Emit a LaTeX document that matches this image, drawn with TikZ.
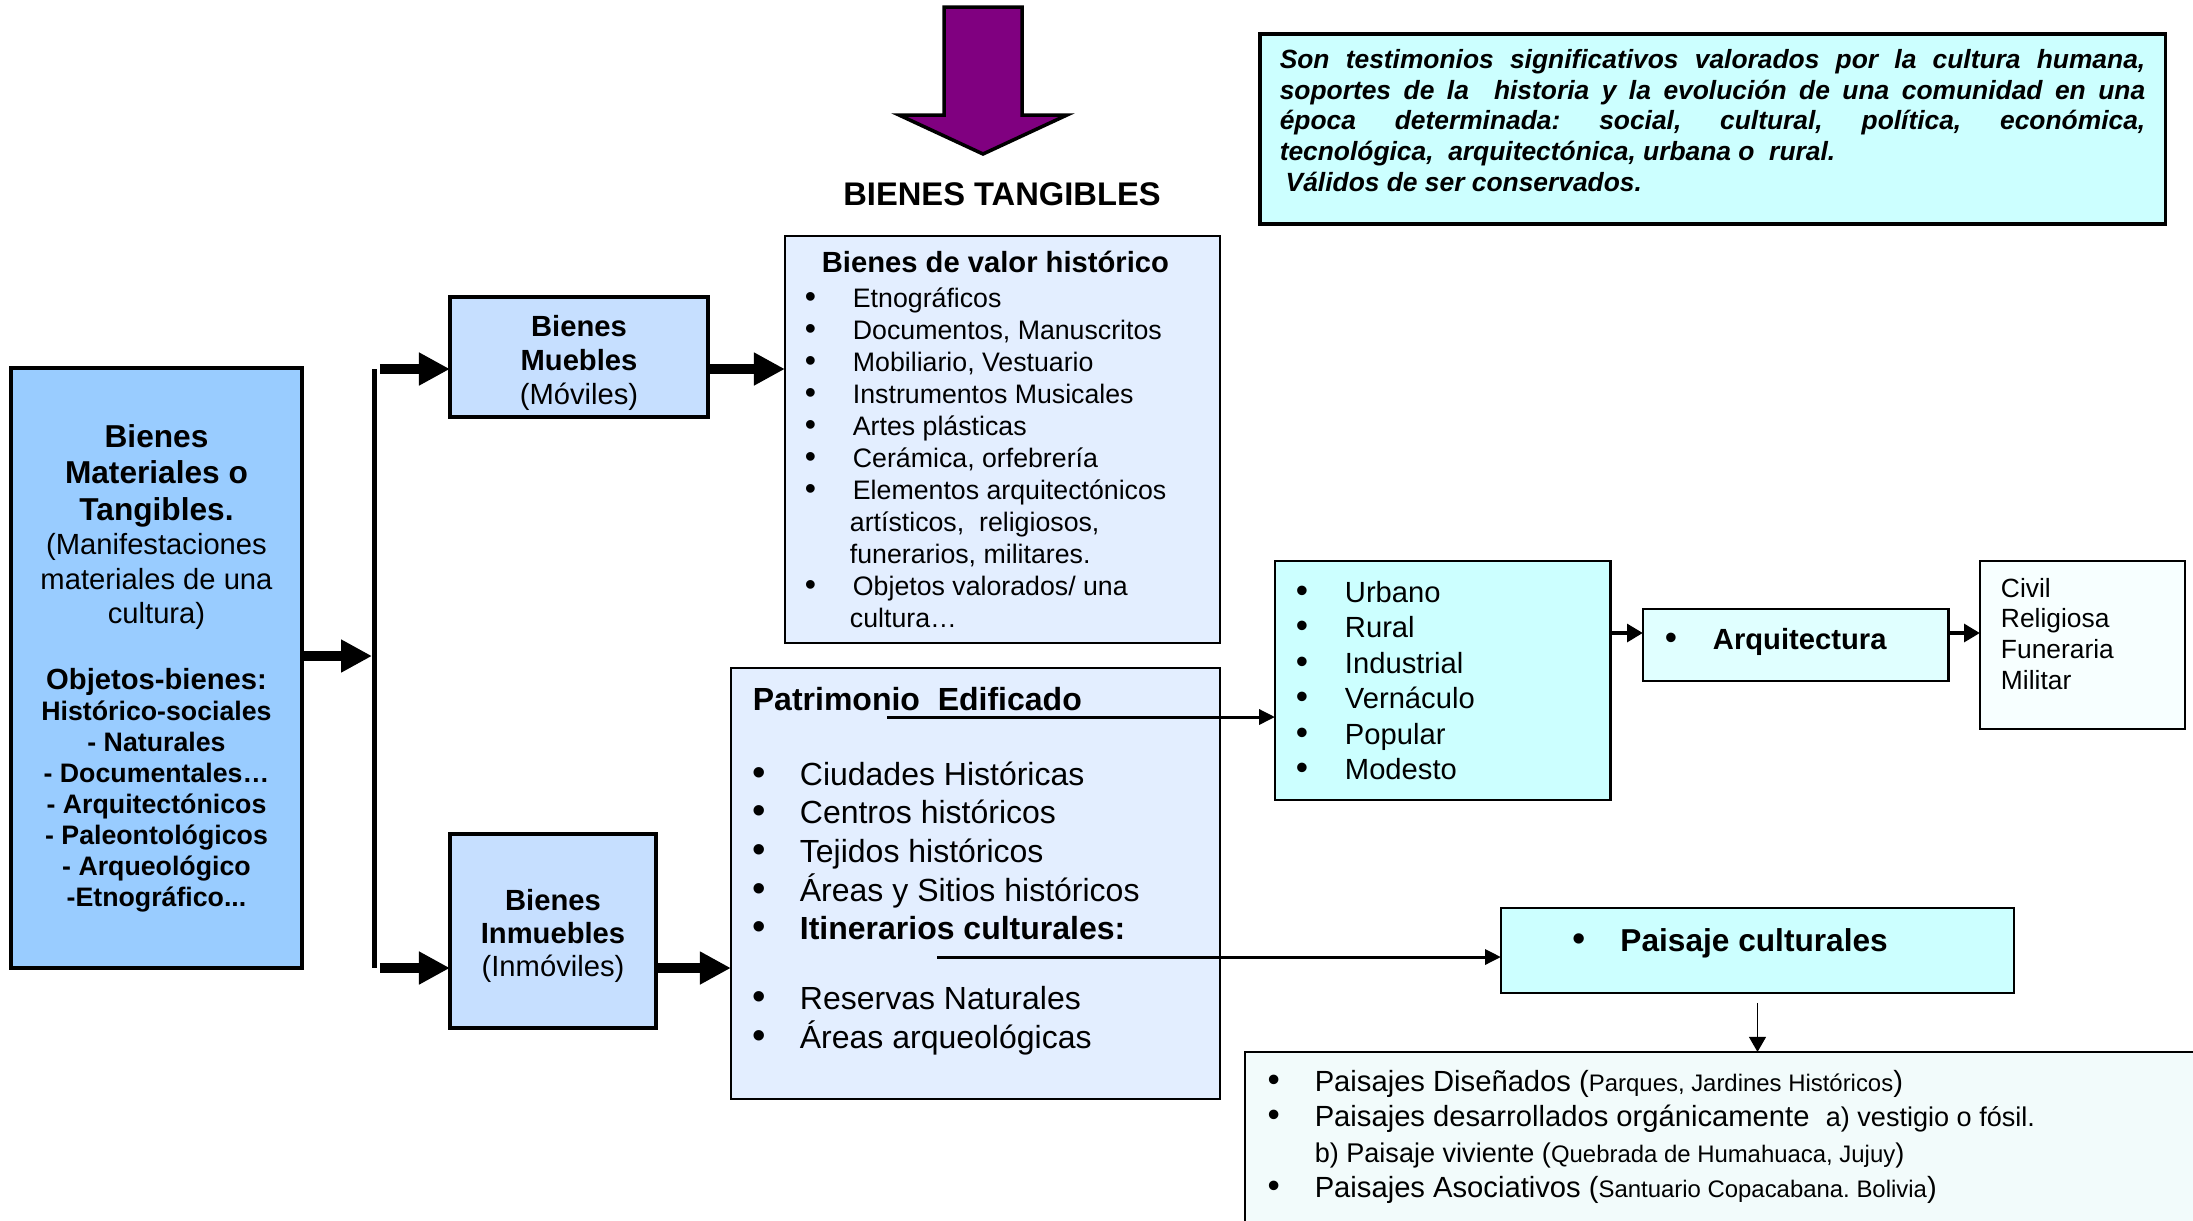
\documentclass[tikz,border=0pt]{standalone}
\usepackage{fontspec}
\setmainfont{Liberation Sans}
\usetikzlibrary{arrows.meta}
\definecolor{matblue}{HTML}{99CCFF}
\definecolor{muebblue}{HTML}{C6DFFF}
\definecolor{valblue}{HTML}{E3EEFF}
\definecolor{boxcyan}{HTML}{CCFFFF}
\definecolor{arqcyan}{HTML}{E0FFFF}
\definecolor{civwhite}{HTML}{F7FFFF}
\definecolor{paiswhite}{HTML}{F2FBFB}
\definecolor{arrowpurple}{HTML}{800080}
\newcommand{\itm}[1][0.47cm]{\makebox[#1][l]{\scalebox{1.2}{\textbullet}}}
\newcommand{\sm}[1]{{\fontsize{6.8}{10}\selectfont #1}}
\newcommand{\jline}[1]{\leavevmode\hbox to 8.65cm{\spaceskip=0.278em plus 1fil\relax #1}}
\newcommand{\txtlift}[1]{\par\vspace*{#1}\hrule height0pt}
\frenchspacing
\begin{document}
\begin{tikzpicture}[x=0.01cm,y=-0.01cm,
	box/.style={draw,inner sep=0pt,outer sep=0pt,line width=0.7pt},
	fat/.style={line width=3.1pt,-{Triangle[length=8.8pt,width=8.8pt]}},
	med/.style={line width=1.2pt,-{Triangle[length=4.5pt,width=5pt]}},
	thinarr/.style={line width=0.85pt,-{Triangle[length=4.5pt,width=4.3pt]}},
	slim/.style={line width=0.5pt,-{Triangle[length=4.3pt,width=4.8pt]}}]
	\path[use as bounding box,fill=white] (0,0) rectangle (2193,1220);
	% flecha superior y titulo
	\draw[line width=1pt,fill=arrowpurple] (944,7) -- (1022,7) -- (1022,115) -- (1067,115) -- (983,154) -- (899,115) -- (944,115) -- cycle;
	\node[font=\fontsize{9.3}{11}\selectfont\bfseries] (tang) at (1002,194) {BIENES TANGIBLES};
	\node[box,line width=1pt,fill=boxcyan,text width=8.65cm,inner xsep=0.2cm,minimum height=1.9cm,align=flush left,font=\fontsize{7.5}{8.7}\selectfont\bfseries\itshape] (def) at (1712.5,129) {%
		\jline{Son testimonios significativos valorados por la cultura humana,}\\
		\jline{soportes de la\ \ historia y la evolución de una comunidad en una}\\
		\jline{época determinada: social, cultural, política, económica,}\\
		tecnológica,\ \ arquitectónica, urbana o\ \ rural.\\
		\hspace*{1.7pt}Válidos de ser conservados.\txtlift{0.17cm}};
	% cajas
	\node[box,line width=1.3pt,fill=matblue,text width=2.71cm,inner xsep=0.1cm,minimum height=6cm,align=flush center] (mat) at (156.5,668) {%
		{\fontsize{9}{10.4}\selectfont\bfseries Bienes\\Materiales o\\Tangibles.\par}
		{\fontsize{8.3}{9.8}\selectfont (Manifestaciones\\materiales de una\\cultura)\par}
		\vspace{9pt}
		{\fontsize{8.3}{9.8}\selectfont\bfseries Objetos-bienes:\par}
		{\fontsize{7.6}{8.8}\selectfont\bfseries Histórico-sociales\\- Naturales\\- Documentales…\\- Arquitectónicos\\- Paleontológicos\\- Arqueológico\\-Etnográfico...\par}};
	\node[box,line width=1pt,fill=muebblue,text width=2.58cm,minimum height=1.2cm,align=flush center,font=\fontsize{8.3}{9.7}\selectfont] (mueb) at (579,357) {\textbf{Bienes}\\\textbf{Muebles}\\(Móviles)\txtlift{-0.12cm}};
	\node[box,line width=1pt,fill=muebblue,text width=2.06cm,minimum height=1.94cm,align=flush center,font=\fontsize{8.3}{9.5}\selectfont] (inmu) at (553,931) {\textbf{Bienes}\\\textbf{Inmuebles}\\(Inmóviles)\txtlift{-0.1cm}};
	\node[box,fill=valblue,text width=3.95cm,inner xsep=0.2cm,minimum height=4.07cm,align=flush left,font=\fontsize{7.6}{9.1}\selectfont] (valor) at (1002.5,439.5) {%
		\hspace*{0.17cm}{\fontsize{8.3}{10}\selectfont\bfseries Bienes de valor histórico}\\[0.9pt]
		\itm[0.48cm]Etnográficos\\
		\itm[0.48cm]Documentos, Manuscritos\\
		\itm[0.48cm]Mobiliario, Vestuario\\
		\itm[0.48cm]Instrumentos Musicales\\
		\itm[0.48cm]Artes plásticas\\
		\itm[0.48cm]Cerámica, orfebrería\\
		\itm[0.48cm]Elementos arquitectónicos\\
		\hspace*{0.45cm}artísticos,\ \ religiosos,\\
		\hspace*{0.45cm}funerarios, militares.\\
		\itm[0.48cm]Objetos valorados/ una\\
		\hspace*{0.45cm}cultura…};
	\node[box,fill=valblue,text width=4.45cm,inner xsep=0.22cm,minimum height=4.31cm,align=flush left,font=\fontsize{9.1}{11}\selectfont] (patr) at (975.5,883.5) {%
		\textbf{Patrimonio\ \ Edificado}\\[10.3pt]
		\itm Ciudades Históricas\\
		\itm Centros históricos\\
		\itm Tejidos históricos\\
		\itm Áreas y Sitios históricos\\
		\itm\textbf{Itinerarios culturales:}\\[8.9pt]
		\itm Reservas Naturales\\
		\itm Áreas arqueológicas\txtlift{0.25cm}};
	\node[box,line width=0.8pt,fill=boxcyan,text width=2.93cm,inner xsep=0.21cm,minimum height=2.39cm,align=flush left,font=\fontsize{8.3}{10.1}\selectfont] (urb) at (1442.5,680.5) {%
		\itm[0.49cm]Urbano\\\itm[0.49cm]Rural\\\itm[0.49cm]Industrial\\\itm[0.49cm]Vernáculo\\\itm[0.49cm]Popular\\\itm[0.49cm]Modesto};
	\node[box,line width=0.8pt,fill=arqcyan,text width=2.61cm,inner xsep=0.22cm,minimum height=0.72cm,align=flush left,font=\fontsize{8.3}{10}\selectfont] (arq) at (1795.5,645) {\itm[0.48cm]\textbf{Arquitectura}\txtlift{0.06cm}};
	\node[box,fill=civwhite,text width=1.63cm,inner xsep=0.21cm,minimum height=1.68cm,align=flush left,font=\fontsize{7.5}{8.8}\selectfont] (civ) at (2082.5,645) {Civil\\Religiosa\\Funeraria\\Militar\txtlift{0.22cm}};
	\node[box,fill=boxcyan,text width=3.7cm,inner xsep=0.715cm,minimum height=0.85cm,align=flush left,font=\fontsize{9}{11}\selectfont] (pais) at (1757.5,950.5) {\itm[0.48cm]\textbf{Paisaje culturales}\txtlift{0.14cm}};
	\node[box,fill=paiswhite,text width=9.09cm,inner xsep=0.23cm,minimum height=1.7cm,align=flush left,font=\fontsize{8.3}{10}\selectfont] (pdes) at (1722.5,1137) {%
		\itm Paisajes Diseñados (\sm{Parques, Jardines Históricos})\\
		\itm Paisajes desarrollados orgánicamente\ \ {\fontsize{7.7}{10}\selectfont a) vestigio o fósil.}\\
		\hspace*{0.47cm}{\fontsize{7.7}{10}\selectfont b) Paisaje viviente (\sm{Quebrada de Humahuaca, Jujuy})}\\
		\itm Paisajes Asociativos (\sm{Santuario Copacabana. Bolivia})};
	% llave y flechas
	\coordinate (btop) at (374.5,369);
	\coordinate (bbot) at (374.5,968);
	\coordinate (bmid) at (372,656);
	\draw[line width=1.4pt] (btop) -- (bbot);
	\draw[fat] (mat.east |- bmid) -- (bmid);
	\draw[fat] ([xshift=1.5pt]btop) -- (mueb.west |- btop);
	\draw[fat] ([xshift=1.5pt]bbot) -- (inmu.west |- bbot);
	\draw[fat] (mueb.east |- btop) -- (valor.west |- btop);
	\draw[fat] (inmu.east |- bbot) -- (patr.west |- bbot);
	\coordinate (edif) at (887,717);
	\coordinate (itin) at (937,957);
	\coordinate (arqrow) at (1620,633);
	\draw[thinarr] (edif) -- (urb.west |- edif);
	\draw[thinarr] (itin) -- (pais.west |- itin);
	\draw[med] (urb.east |- arqrow) -- (arq.west |- arqrow);
	\draw[med] (arq.east |- arqrow) -- (civ.west |- arqrow);
	\draw[slim,shorten <=2.8pt] (pais.south) -- (pais.south |- pdes.north);
\end{tikzpicture}
\end{document}
